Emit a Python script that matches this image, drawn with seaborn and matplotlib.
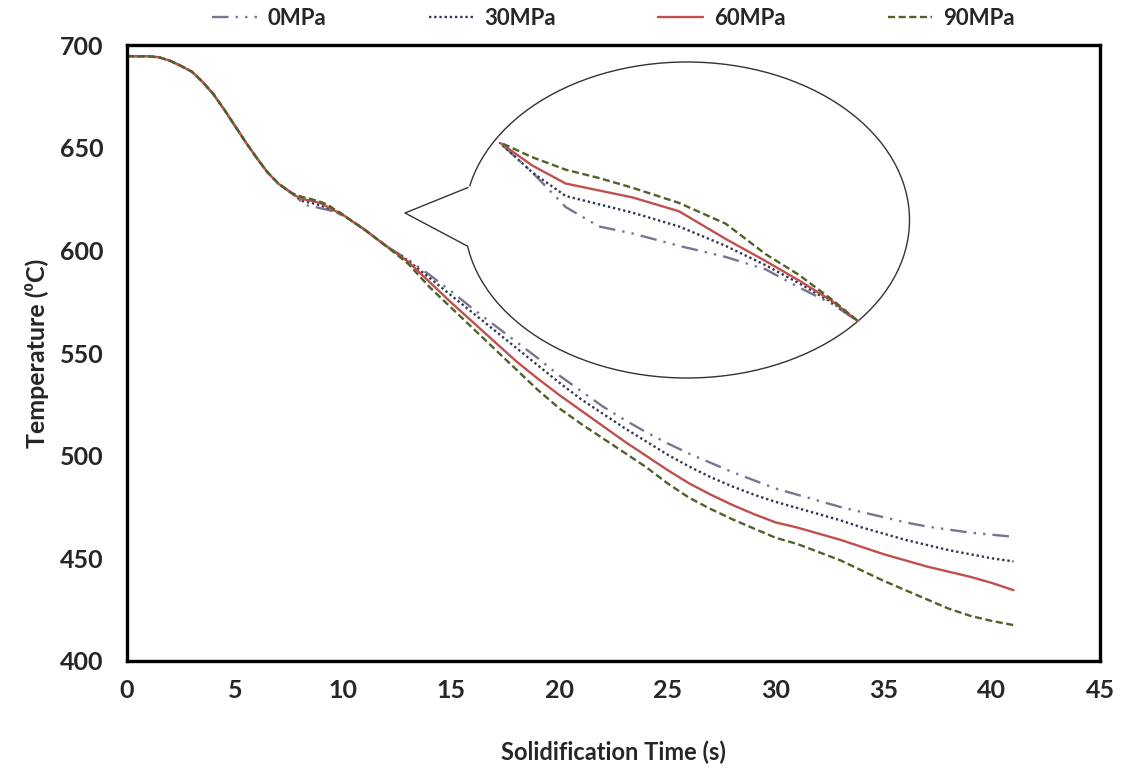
import numpy as np
import pandas as pd
import matplotlib
matplotlib.use("Agg")
import matplotlib.pyplot as plt
import seaborn as sns
from matplotlib.patches import Ellipse, Polygon
from matplotlib.ticker import MultipleLocator

# shared cooling curve before the curves split (s, degC)
t_common = [0, 1, 1.5, 2, 2.5, 3, 3.5, 4, 4.5, 5, 5.5, 6, 6.5, 7, 7.6]
temp_common = [694.6, 694.5, 694.0, 692.3, 689.8, 687.0, 682.0, 676.0,
               668.5, 660.5, 652.5, 645.0, 638.0, 632.5, 628.0]

# time after the split
t_split = [7.85, 8.1, 8.35, 8.6, 8.95, 9.3, 9.6, 9.85, 10.1, 10.3, 11, 12,
           13, 14, 15, 16, 17, 18, 19, 20, 21, 22, 23, 24, 25, 26, 27,
           28, 29, 30, 31, 32, 33, 34, 35, 36, 37, 38, 39, 40, 41]

temp_0mpa = [625.8, 623.3, 621.9, 621.4, 620.5, 619.7, 618.8, 617.5, 616.3,
             615.0, 610.0, 602.0,
             595.5, 588.0, 580.0, 571.5, 563.5, 555.5, 547.5, 539.0, 531.5,
             524.0, 517.5, 511.5, 506.0, 501.0, 496.5, 492.0, 488.0, 484.0,
             481.0, 478.0, 475.0, 472.5, 470.0, 467.5, 465.5, 464.0, 462.5,
             461.5, 460.5]
temp_30mpa = [625.8, 624.1, 623.5, 622.9, 621.9, 620.5, 619.1, 617.8, 616.4,
              615.0, 610.0, 602.0,
              595.0, 586.5, 578.0, 569.5, 561.0, 552.5, 544.0, 535.5, 527.5,
              520.5, 513.5, 507.0, 500.5, 494.7, 489.5, 485.0, 481.0, 477.5,
              474.5, 471.5, 468.5, 465.0, 462.0, 459.0, 456.5, 454.0, 452.0,
              450.0, 448.5]
temp_60mpa = [626.3, 625.0, 624.5, 624.0, 623.0, 621.0, 619.4, 618.0, 616.5,
              615.0, 610.0, 602.0,
              594.5, 584.5, 574.5, 565.0, 555.5, 546.0, 537.5, 529.5, 522.0,
              514.5, 507.0, 500.0, 493.0, 486.5, 481.0, 476.0, 471.5, 467.5,
              465.0, 462.0, 459.0, 455.5, 452.0, 449.0, 446.0, 443.5, 441.0,
              438.0, 434.5]
temp_90mpa = [626.9, 626.0, 625.4, 624.7, 623.6, 622.1, 619.9, 618.4, 616.6,
              615.0, 610.0, 602.0,
              593.5, 582.0, 572.0, 562.0, 552.0, 542.0, 532.0, 523.0, 515.5,
              508.5, 501.5, 494.5, 486.5, 479.5, 474.0, 469.0, 464.5, 460.0,
              457.0, 453.0, 449.0, 444.0, 439.0, 434.5, 430.0, 425.5, 422.0,
              419.5, 417.5]

labels = ["0MPa", "30MPa", "60MPa", "90MPa"]
series = [temp_0mpa, temp_30mpa, temp_60mpa, temp_90mpa]

frames = []
for lab, vals in zip(labels, series):
    frames.append(pd.DataFrame({"time": t_common + t_split,
                                "temp": temp_common + vals,
                                "pressure": lab}))
df = pd.concat(frames, ignore_index=True)

palette = {"0MPa": "#767690", "30MPa": "#2e3a55",
           "60MPa": "#c0504d", "90MPa": "#4f6228"}
dashes = {"0MPa": (7, 3, 1, 3, 1, 3), "30MPa": (1, 1.2),
          "60MPa": "", "90MPa": (3, 1.5)}

sns.set_style("white")
plt.rcParams['font.family'] = ['Lato', 'DejaVu Sans']

fig = plt.figure(figsize=(11.26, 7.75), dpi=100)
ax = fig.add_axes([0.1128, 0.1471, 0.8641, 0.7948])

sns.lineplot(data=df, x="time", y="temp", hue="pressure", style="pressure",
             palette=palette, dashes=dashes, estimator=None, sort=False,
             linewidth=1.7, ax=ax)

ax.set_xlim(0, 45)
ax.set_ylim(400, 700)
ax.xaxis.set_major_locator(MultipleLocator(5))
ax.xaxis.set_minor_locator(MultipleLocator(1))
ax.yaxis.set_major_locator(MultipleLocator(50))
ax.tick_params(axis='x', which='major', direction='in', length=6, width=1.5,
               pad=13, labelsize=18)
ax.tick_params(axis='x', which='minor', direction='in', length=3.5, width=1.2)
ax.tick_params(axis='y', which='major', direction='in', length=6, width=1.5,
               pad=17, labelsize=18)
for lbl in ax.get_xticklabels() + ax.get_yticklabels():
    lbl.set_fontweight('bold')
for sp in ax.spines.values():
    sp.set_visible(True)
    sp.set_linewidth(2.4)
    sp.set_color('black')

ax.set_xlabel("Solidification Time (s)", fontsize=17, fontweight='bold',
              labelpad=28)
ax.set_ylabel("Temperature (⁰C)", fontsize=18, fontweight='bold', labelpad=8)

handles, labs = ax.get_legend_handles_labels()
ax.get_legend().remove()
fig.legend(handles, labs, loc='center', bbox_to_anchor=(0.545, 0.976),
           ncol=4, frameon=False, columnspacing=4.6, handlelength=2.0,
           handletextpad=0.5, prop={'weight': 'bold', 'size': 16})

# callout bubble holding the magnified view
ov = fig.add_axes([0, 0, 1, 1], zorder=3)
ov.set_xlim(0, 1126)
ov.set_ylim(775, 0)
ov.axis('off')
ov.patch.set_alpha(0)
ov.add_patch(Ellipse((687, 220), 445, 316, facecolor='white',
                     edgecolor='#333333', lw=1.0))
ov.add_patch(Polygon([(405, 213), (470, 186), (476, 217), (470, 248)],
                     closed=True, facecolor='white', edgecolor='none'))
ov.plot([468, 405, 468], [187.5, 213, 246.4], color='#333333', lw=1.0)

ins = fig.add_axes([499 / 1126, 1 - 322 / 775, 360 / 1126, 180 / 775], zorder=4)
sns.lineplot(data=df, x="time", y="temp", hue="pressure", style="pressure",
             palette=palette, dashes=dashes, estimator=None, sort=False,
             linewidth=1.7, ax=ins, legend=False)
ins.set_xlim(7.6, 10.3)
ins.set_ylim(615, 628)
ins.axis('off')
ins.patch.set_alpha(0)

fig.savefig("out.png", dpi=100)
